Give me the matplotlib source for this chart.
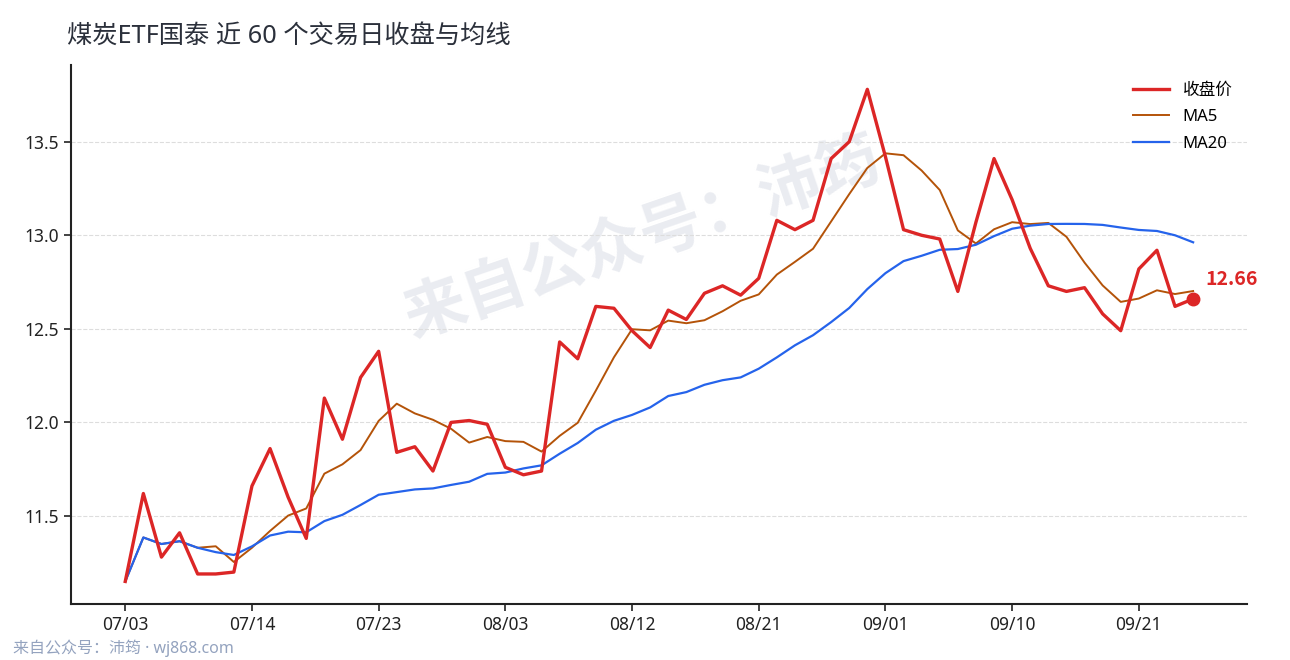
import matplotlib
matplotlib.use("Agg")
import matplotlib.pyplot as plt
import numpy as np
import pandas as pd

# Latin glyphs from Noto Sans, CJK falls back to Noto Sans CJK SC
plt.rcParams['font.family'] = ['Noto Sans', 'Noto Sans CJK SC', 'DejaVu Sans']

# closing prices, 60 trading days
close = [11.15, 11.62, 11.28, 11.41, 11.19, 11.19, 11.20, 11.66, 11.86, 11.60,
         11.38, 12.13, 11.91, 12.24, 12.38, 11.84, 11.87, 11.74, 12.00, 12.01,
         11.99, 11.76, 11.72, 11.74, 12.43, 12.34, 12.62, 12.61, 12.49, 12.40,
         12.60, 12.55, 12.69, 12.73, 12.68, 12.77, 13.08, 13.03, 13.08, 13.41,
         13.50, 13.78, 13.42, 13.03, 13.00, 12.98, 12.70, 13.07, 13.41, 13.19,
         12.93, 12.73, 12.70, 12.72, 12.58, 12.49, 12.82, 12.92, 12.62, 12.66]
tick_labels = ['07/03', '07/14', '07/23', '08/03', '08/12', '08/21', '09/01', '09/10', '09/21']
tick_step = 7

s = pd.Series(close)
ma5 = s.rolling(5, min_periods=1).mean()
ma20 = s.rolling(20, min_periods=1).mean()
x = np.arange(len(close))

fig = plt.figure(figsize=(12.9, 6.6), dpi=100)
ax = fig.add_axes([0.055, 0.085, 0.912, 0.8165])

ax.plot(x, close, color='#dc2626', lw=2.4, label='收盘价', zorder=4)
ax.plot(x, ma5, color='#b45309', lw=1.4, label='MA5', zorder=3)
ax.plot(x, ma20, color='#2563eb', lw=1.6, label='MA20', zorder=3)

# last point marker + label
ax.plot(x[-1], close[-1], 'o', color='#dc2626', ms=9, zorder=5)
ax.annotate(f'{close[-1]:.2f}', (x[-1], close[-1]), xytext=(9, 14),
            textcoords='offset points', color='#dc2626', fontsize=14,
            fontweight='bold', family=['Noto Sans CJK SC'], va='center', ha='left')

# watermark
ax.text(0.487, 0.672, '来自公众号：沛筠', transform=ax.transAxes, fontsize=45,
        fontweight='bold', color='#eaecf1', rotation=19, ha='center', va='center', zorder=0)

ax.set_xlim(-3, 62)
ax.set_ylim(11.03, 13.91)
ax.set_xticks(x[::tick_step][:len(tick_labels)])
ax.set_xticklabels(tick_labels)
ax.set_yticks([11.5, 12.0, 12.5, 13.0, 13.5])
ax.set_yticklabels(['11.5', '12.0', '12.5', '13.0', '13.5'])
ax.tick_params(labelsize=12.5, colors='#222222', length=5, width=1.2)

ax.grid(axis='y', ls='--', color='#dddddd', lw=0.8)
ax.set_axisbelow(True)
for side in ['top', 'right']:
    ax.spines[side].set_visible(False)
for side in ['left', 'bottom']:
    ax.spines[side].set_linewidth(1.5)
    ax.spines[side].set_color('#222222')

ax.legend(loc='upper right', frameon=False, fontsize=12, handlelength=2.2,
          bbox_to_anchor=(1.0, 0.995), labelspacing=0.63)

fig.text(0.052, 0.945, '煤炭ETF国泰 近 60 个交易日收盘与均线', fontsize=18.2,
         color='#2b303b', ha='left', va='center')
fig.text(0.010, 0.018, '来自公众号：沛筠 · wj868.com', fontsize=11.5,
         color='#94a3bf', ha='left', va='center')

fig.savefig('out.png', dpi=100)
